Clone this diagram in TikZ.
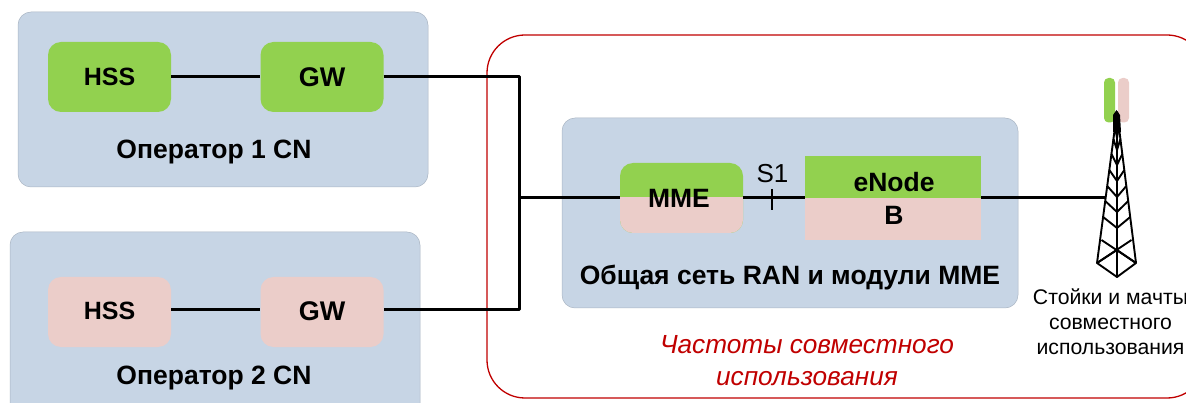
\documentclass[tikz,border=0pt]{standalone}
\usepackage{fontspec}
\setmainfont{Liberation Sans}
\definecolor{panel}{HTML}{C7D5E5}
\definecolor{grn}{HTML}{92D14F}
\definecolor{pnk}{HTML}{EBCDC9}
\definecolor{redl}{HTML}{C00000}
\tikzset{
  x=1pt,y=-1pt,
  panelbox/.style={fill=panel,draw=panel!85!black,line width=0.5pt,rounded corners=13pt},
  cnbox/.style={rounded corners=13pt,minimum width=123pt,minimum height=70pt,inner sep=0pt,font=\fontsize{25}{27}\selectfont\bfseries},
  link/.style={line width=3pt,black},
  title/.style={font=\fontsize{26.5}{28}\selectfont\bfseries,inner sep=0pt},
  tw/.style={line width=1.9pt,black,line join=round},
}
\begin{document}
\begin{tikzpicture}
\useasboundingbox (0,0) rectangle (1186,403);
\clip (0,0) rectangle (1186,403);
\draw[redl,line width=1.3pt,rounded corners=38pt] (487,35) rectangle (1205,398);
\draw[panelbox] (18,12) rectangle (428,187);
\draw[panelbox] (10,232) rectangle (420,430);
\draw[panelbox] (562,118) rectangle (1018,308);
\node[cnbox,fill=grn] (hss1) at (109.5,77) {HSS};
\node[cnbox,fill=grn] (gw1) at (322,77) {\fontsize{27}{28}\selectfont GW};
\node[cnbox,fill=pnk] (hss2) at (109.5,312) {\raisebox{2pt}{HSS}};
\node[cnbox,fill=pnk] (gw2) at (322,312) {\raisebox{2pt}{\fontsize{27}{28}\selectfont GW}};
\node[title] (t1) at (214,151.5) {Оператор 1 CN};
\node[title] (t2) at (214,378) {Оператор 2 CN};
\coordinate (j1) at (519,77);
\coordinate (j2) at (519,310);
\coordinate (jm) at (519,198);
\fill[grn,rounded corners=13pt] (620,163) rectangle (743,233);
\begin{scope}
\clip (610,197.5) rectangle (750,240);
\fill[pnk,rounded corners=13pt] (620,163) rectangle (743,233);
\end{scope}
\node[minimum width=123pt,minimum height=70pt,inner sep=0pt] (mme) at (681.5,198) {};
\node[title] at (679,198) {MME};
\fill[grn] (805,156) rectangle (981,198);
\fill[pnk] (805,198) rectangle (981,240);
\node[minimum width=176pt,minimum height=84pt,inner sep=0pt] (enb) at (893,198) {};
\node[title] at (894,182) {eNode};
\node[title] at (894,215) {B};
\node[title] (t3) at (790,278) {Общая сеть RAN и модули MME};
\node[inner sep=0pt,font=\fontsize{26}{28}\selectfont] (s1) at (772.5,174) {S1};
\draw[link] (hss1) -- (gw1);
\draw[link] (hss2.east |- j2) -- (gw2.west |- j2);
\draw[link,line join=round] (gw1.east) -- (j1) -- (j2) -- (gw2.east |- j2);
\draw[link] (jm) -- (mme.west);
\draw[link] (mme.east) -- (enb.west);
\draw[line width=2pt] (772,189) -- (772,210);
% antenna
\fill[grn,rounded corners=4.5pt] (1104,78) rectangle (1115,122.5);
\fill[pnk,rounded corners=4.5pt] (1118,78) rectangle (1129,122.5);
\coordinate (twr) at (1105,198);
\draw[link] (enb.east) -- (twr);
% tower
\draw[tw] (1117,112) -- (1097,263) -- (1117,277) -- (1136,263) -- cycle;
\draw[tw] (1117,112) -- (1117,277);
\draw[tw] (1097,263) -- (1117,250) -- (1136,263);
\draw[tw] (1097,263) -- (1131.5,240);
\draw[tw] (1136,263) -- (1101.5,240);
\foreach \c in {228,212,197,181,165,150,138}{
  \pgfmathsetmacro{\e}{\c-11}
  \pgfmathsetmacro{\wl}{(\e-112)*20/151}
  \pgfmathsetmacro{\wr}{(\e-112)*19/151}
  \draw[tw] (1117-\wl,\e) -- (1117,\c) -- (1117+\wr,\e);
}
\fill (1113,115) -- (1116.5,110) -- (1120,115) -- (1121,132) -- (1113,132) -- cycle;
\node[inner sep=0pt,align=center,font=\fontsize{21.2}{25}\selectfont] (cap) at (1110.5,321.5) {Стойки и мачты\\совместного\\использования};
\node[inner sep=0pt,align=center,text=redl,font=\fontsize{26.2}{31.5}\selectfont\itshape] (freq) at (807,360.5) {Частоты совместного\\использования};
\end{tikzpicture}
\end{document}
